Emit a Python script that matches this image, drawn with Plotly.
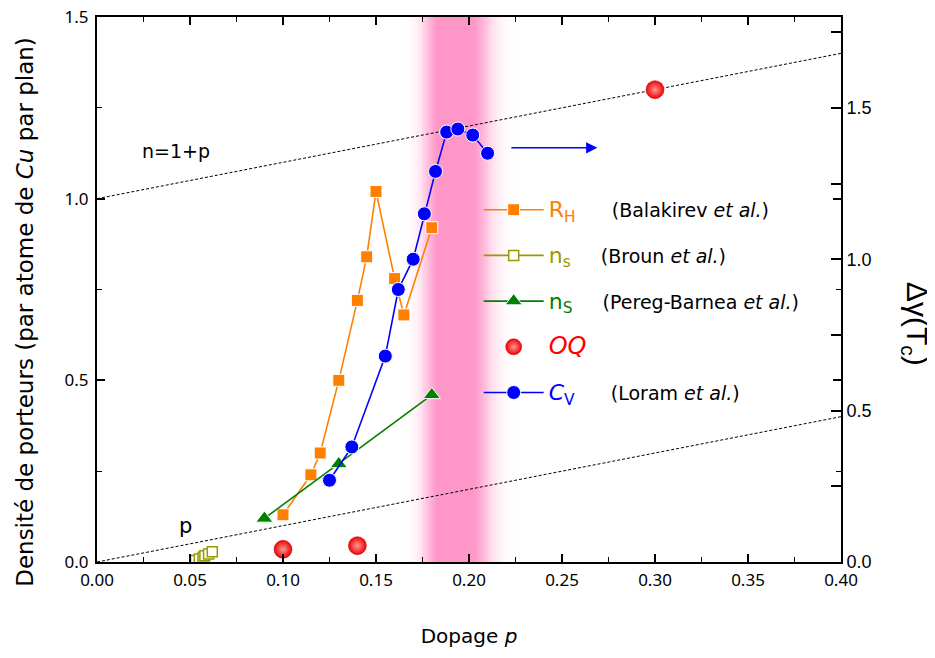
import math
import plotly.graph_objects as go

# ---------------- data ----------------
rh_p = [0.10, 0.115, 0.12, 0.13, 0.14, 0.145, 0.15, 0.16, 0.165, 0.18]
rh_n = [0.13, 0.24, 0.30, 0.50, 0.72, 0.84, 1.02, 0.78, 0.68, 0.92]

broun_p = [0.053, 0.055, 0.057, 0.058, 0.060, 0.062]
broun_n = [0.004, 0.008, 0.013, 0.017, 0.022, 0.028]

pereg_p = [0.09, 0.13, 0.18]
pereg_n = [0.12, 0.27, 0.46]

oq_p = [0.10, 0.14, 0.30]
oq_n = [0.035, 0.045, 1.30]

cv_p = [0.125, 0.137, 0.155, 0.162, 0.170, 0.176, 0.182, 0.188, 0.194, 0.202, 0.210]
cv_dg = [0.27, 0.38, 0.68, 0.90, 1.00, 1.15, 1.29, 1.42, 1.43, 1.41, 1.35]

line_p = [0.0, 0.40]
line_n1p = [1.0, 1.40]
line_np = [0.0, 0.40]

x_ticks = [0.0, 0.05, 0.10, 0.15, 0.20, 0.25, 0.30, 0.35, 0.40]
y_ticks = [0.0, 0.5, 1.0, 1.5]
y2_ticks = [0.0, 0.25, 0.5, 0.75, 1.0, 1.25, 1.5, 1.75]
y2_labels = ["0.0", "", "0.5", "", "1.0", "", "1.5", ""]

band_core_left, band_core_right = 0.184, 0.2005
band_sigma_left, band_sigma_right = 0.009, 0.011

arrow_start, arrow_end, arrow_level = 0.222, 0.269, 1.368

FONT = "DejaVu Sans"
TICKFONT = "Noto Sans"
ORANGE = "#ff8000"
OLIVE = "#999900"
GREEN = "#008000"
BLUE = "#0000ff"
PINK = "rgb(255,150,200)"

fig = go.Figure()

# pink band as a smooth heatmap strip (uniform grid, soft gaussian edges)
def band_profile(x):
    if band_core_left <= x <= band_core_right:
        return 1.0
    if x < band_core_left:
        d = (band_core_left - x) / band_sigma_left
    else:
        d = (x - band_core_right) / band_sigma_right
    return math.exp(-d * d)

step = 0.001
x_start, x_stop = 0.150, 0.240
n_pts = int(round((x_stop - x_start) / step)) + 1
bx = [x_start + i * step for i in range(n_pts)]
bz = [band_profile(v) for v in bx]
fig.add_trace(go.Heatmap(x=bx, y=[0, 1.5], z=[bz, bz], zsmooth="best",
                         colorscale=[[0, "white"], [1, PINK]], zmin=0, zmax=1,
                         showscale=False, hoverinfo="skip"))

# reference lines
fig.add_trace(go.Scatter(x=line_p, y=line_n1p, mode="lines",
                         line=dict(color="black", width=1, dash="3px,2px"),
                         showlegend=False, hoverinfo="skip"))
fig.add_trace(go.Scatter(x=line_p, y=line_np, mode="lines",
                         line=dict(color="black", width=1, dash="3px,2px"),
                         showlegend=False, hoverinfo="skip"))

# data series
fig.add_trace(go.Scatter(
    x=rh_p, y=rh_n, mode="lines+markers",
    line=dict(color=ORANGE, width=1.6),
    marker=dict(symbol="square", size=12, color=ORANGE, line=dict(color="white", width=1)),
    name='<span style="color:#ff8000;font-size:22px">R<sub>H</sub></span>      (Balakirev <i>et al.</i>)',
    legendgroup="a"))
fig.add_trace(go.Scatter(
    x=broun_p, y=broun_n, mode="lines+markers",
    line=dict(color=OLIVE, width=1.6),
    marker=dict(symbol="square", size=10, color="white", line=dict(color=OLIVE, width=1.5)),
    name='<span style="color:#999900;font-size:22px">n<sub>s</sub></span>     (Broun <i>et al.</i>)',
    legendgroup="b"))
fig.add_trace(go.Scatter(
    x=pereg_p, y=pereg_n, mode="lines+markers",
    line=dict(color=GREEN, width=1.6),
    marker=dict(symbol="triangle-up", size=15, color=GREEN, line=dict(color="white", width=1)),
    name='<span style="color:#008000;font-size:22px">n<sub>S</sub></span>     (Pereg-Barnea <i>et al.</i>)',
    legendgroup="c"))
fig.add_trace(go.Scatter(
    x=oq_p, y=oq_n, mode="markers",
    marker=dict(symbol="circle", size=18, color="#f00000",
                gradient=dict(type="radial", color="#ff9a9a"),
                line=dict(color="#c00000", width=0.5)),
    name='<span style="color:#ff0000;font-size:24px"><i>OQ</i></span>',
    legendgroup="d"))
fig.add_trace(go.Scatter(
    x=cv_p, y=cv_dg, mode="lines+markers", yaxis="y2",
    line=dict(color=BLUE, width=1.6),
    marker=dict(symbol="circle", size=14, color=BLUE, line=dict(color="white", width=1)),
    name='<span style="color:#0000ff;font-size:22px"><i>C</i><sub>V</sub></span>      (Loram <i>et al.</i>)',
    legendgroup="e"))

annotations = [
    dict(x=0.023, y=1.13, xref="x", yref="y", text="n=1+p", showarrow=False,
         xanchor="left", font=dict(family=FONT, size=19, color="black")),
    dict(x=0.043, y=0.10, xref="x", yref="y", text="p", showarrow=False,
         xanchor="left", font=dict(family=FONT, size=21, color="black")),
    dict(x=arrow_end, y=arrow_level, xref="x", yref="y2",
         ax=arrow_start, ay=arrow_level, axref="x", ayref="y2",
         text="", showarrow=True, arrowhead=2, arrowsize=1.4, arrowwidth=1.6,
         arrowcolor=BLUE),
    dict(x=1.127, y=0.437, xref="paper", yref="paper", text="Δγ(T<sub>c</sub>)",
         showarrow=False, textangle=90,
         font=dict(family="Liberation Sans", size=30, color="black")),
    dict(x=-0.117, y=0.459, xref="paper", yref="paper",
         text="Densité de porteurs (par atome de <i>Cu</i> par plan)",
         showarrow=False, textangle=-90,
         font=dict(family=FONT, size=23, color="black")),
]

# the page adds an 8px body margin, so the margins are shifted to compensate
fig.update_layout(
    width=935, height=658,
    margin=dict(l=89, r=102, t=9, b=104),
    paper_bgcolor="white", plot_bgcolor="white",
    font=dict(family=FONT, size=17, color="black"),
    annotations=annotations,
    showlegend=True,
    legend=dict(x=0.513, y=0.681, xanchor="left", yanchor="top",
                bgcolor="rgba(0,0,0,0)", traceorder="grouped", tracegroupgap=18,
                font=dict(family=FONT, size=19, color="black"), itemwidth=60),
    xaxis=dict(range=[0, 0.4], tickvals=x_ticks, tickformat=".2f",
               ticks="inside", ticklen=8, tickwidth=1.5, tickcolor="black",
               showline=True, linewidth=2, linecolor="black", mirror="ticks",
               showgrid=False, zeroline=False, automargin=False,
               ticklabelstandoff=2, ticklabeloverflow="allow",
               minor=dict(dtick=0.025, ticks="inside", ticklen=5, tickwidth=1.2, tickcolor="black"),
               tickfont=dict(family=TICKFONT, size=17),
               title=dict(text="Dopage <i>p</i>", font=dict(family=FONT, size=20), standoff=39)),
    yaxis=dict(range=[0, 1.5], tickvals=y_ticks, tickformat=".1f",
               ticks="inside", ticklen=8, tickwidth=1.5, tickcolor="black",
               showline=True, linewidth=2, linecolor="black", mirror="ticks",
               showgrid=False, zeroline=False, automargin=False,
               ticklabelstandoff=3, ticklabeloverflow="allow",
               minor=dict(dtick=0.25, ticks="inside", ticklen=5, tickwidth=1.2, tickcolor="black"),
               tickfont=dict(family=TICKFONT, size=17)),
    yaxis2=dict(range=[0, 1.8], tickvals=y2_ticks, ticktext=y2_labels,
                overlaying="y", side="right",
                ticks="inside", ticklen=10, tickwidth=1.5, tickcolor="black",
                showline=True, linewidth=2, linecolor="black",
                showgrid=False, zeroline=False, automargin=False,
                ticklabeloverflow="allow",
                tickfont=dict(family="Liberation Sans", size=18)),
)

fig.write_html("out.html")
